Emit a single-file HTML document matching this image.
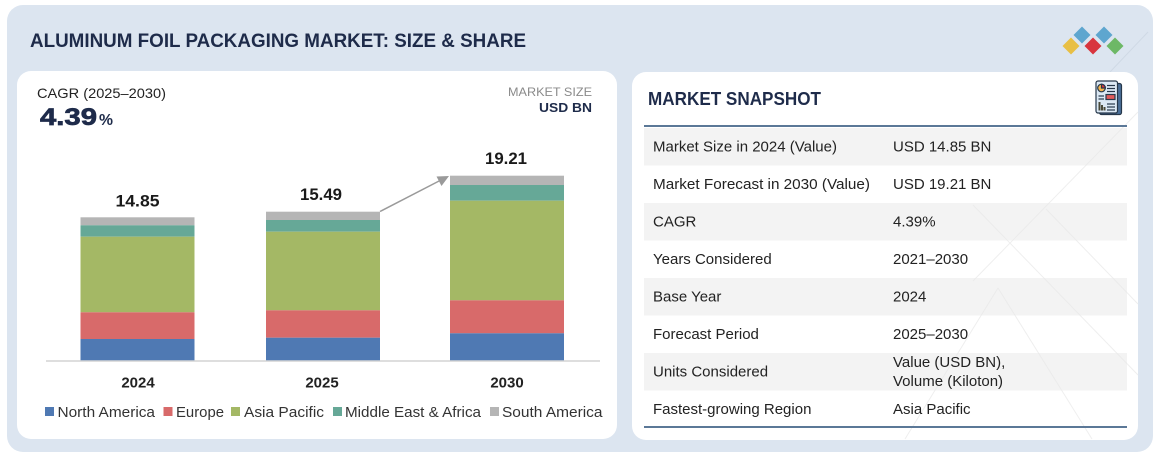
<!DOCTYPE html>
<html>
<head>
<meta charset="utf-8">
<style>
html,body{margin:0;padding:0;background:#ffffff;}
svg{display:block;}
text{font-family:"Liberation Sans", Arial, sans-serif;}
</style>
</head>
<body>
<svg width="1159" height="455" viewBox="0 0 1159 455" xmlns="http://www.w3.org/2000/svg">
  <rect x="0" y="0" width="1159" height="455" fill="#ffffff"/>
  <!-- outer panel -->
  <rect x="7" y="5" width="1146" height="447" rx="16" ry="16" fill="#dce5f0"/>
  <line x1="1148" y1="32" x2="1110" y2="72" stroke="#cfd9e5" stroke-width="1"/>

  <!-- title -->
  <text x="30" y="47" font-size="19" font-weight="bold" fill="#1e2b4a" textLength="496" lengthAdjust="spacingAndGlyphs">ALUMINUM FOIL PACKAGING MARKET: SIZE &amp; SHARE</text>

  <!-- logo diamonds -->
  <g>
    <polygon points="1071,37.5 1079.5,46 1071,54.5 1062.5,46" fill="#e8bf45"/>
    <polygon points="1082,26.5 1090.5,35 1082,43.5 1073.5,35" fill="#5ea6cf"/>
    <polygon points="1104,26.5 1112.5,35 1104,43.5 1095.5,35" fill="#5ea6cf"/>
    <polygon points="1093,37.5 1101.5,46 1093,54.5 1084.5,46" fill="#d8353e"/>
    <polygon points="1115,37.5 1123.5,46 1115,54.5 1106.5,46" fill="#6db866"/>
  </g>

  <!-- left card -->
  <rect x="17" y="71" width="600" height="368" rx="14" ry="14" fill="#ffffff"/>

  <text x="37" y="98" font-size="14" fill="#222222" textLength="129" lengthAdjust="spacingAndGlyphs">CAGR (2025–2030)</text>
  <text x="40" y="125" font-size="24" font-weight="bold" fill="#1e2b4a" stroke="#1e2b4a" stroke-width="0.7" textLength="57" lengthAdjust="spacingAndGlyphs">4.39</text>
  <text x="99" y="125" font-size="16" font-weight="bold" fill="#1e2b4a" textLength="14" lengthAdjust="spacingAndGlyphs">%</text>

  <text x="592" y="96" font-size="12" fill="#8a8a8a" text-anchor="end" textLength="84" lengthAdjust="spacingAndGlyphs">MARKET SIZE</text>
  <text x="592" y="112" font-size="13" font-weight="bold" fill="#1e2b4a" text-anchor="end" textLength="53" lengthAdjust="spacingAndGlyphs">USD BN</text>

  <!-- bars 2024 -->
  <rect x="80.5" y="217.3" width="114" height="8" fill="#b5b5b5"/>
  <rect x="80.5" y="225.3" width="114" height="11.4" fill="#66a897"/>
  <rect x="80.5" y="236.7" width="114" height="75.6" fill="#a4b865"/>
  <rect x="80.5" y="312.3" width="114" height="26.7" fill="#d86a6a"/>
  <rect x="80.5" y="339" width="114" height="21.5" fill="#4f79b3"/>
  <!-- bars 2025 -->
  <rect x="266" y="211.7" width="114" height="8.3" fill="#b5b5b5"/>
  <rect x="266" y="220" width="114" height="11.7" fill="#66a897"/>
  <rect x="266" y="231.7" width="114" height="78.6" fill="#a4b865"/>
  <rect x="266" y="310.3" width="114" height="27.4" fill="#d86a6a"/>
  <rect x="266" y="337.7" width="114" height="22.8" fill="#4f79b3"/>
  <!-- bars 2030 -->
  <rect x="450" y="175.7" width="114" height="9.3" fill="#b5b5b5"/>
  <rect x="450" y="185" width="114" height="15.7" fill="#66a897"/>
  <rect x="450" y="200.7" width="114" height="99.6" fill="#a4b865"/>
  <rect x="450" y="300.3" width="114" height="33" fill="#d86a6a"/>
  <rect x="450" y="333.3" width="114" height="27.2" fill="#4f79b3"/>

  <!-- baseline -->
  <line x1="46" y1="361" x2="600" y2="361" stroke="#d4d4d4" stroke-width="1.5"/>

  <!-- arrow -->
  <line x1="380" y1="211.5" x2="441" y2="180" stroke="#9a9a9a" stroke-width="1.5"/>
  <polygon points="449,176 436.5,176.5 441.5,186" fill="#9a9a9a"/>

  <!-- value labels -->
  <text x="137.5" y="206.7" font-size="17" font-weight="bold" fill="#1a1a1a" text-anchor="middle" textLength="44" lengthAdjust="spacingAndGlyphs">14.85</text>
  <text x="321" y="200" font-size="17" font-weight="bold" fill="#1a1a1a" text-anchor="middle" textLength="42" lengthAdjust="spacingAndGlyphs">15.49</text>
  <text x="506" y="164" font-size="17" font-weight="bold" fill="#1a1a1a" text-anchor="middle" textLength="42" lengthAdjust="spacingAndGlyphs">19.21</text>

  <!-- year labels -->
  <text x="138" y="387.7" font-size="15" font-weight="bold" fill="#222222" text-anchor="middle">2024</text>
  <text x="322" y="387.7" font-size="15" font-weight="bold" fill="#222222" text-anchor="middle">2025</text>
  <text x="507" y="387.7" font-size="15" font-weight="bold" fill="#222222" text-anchor="middle">2030</text>

  <!-- legend -->
  <rect x="45" y="407" width="9" height="9" fill="#4f79b3"/>
  <text x="57.5" y="417" font-size="15" fill="#333333" textLength="97.5" lengthAdjust="spacingAndGlyphs">North America</text>
  <rect x="163.5" y="407" width="9" height="9" fill="#d86a6a"/>
  <text x="176" y="417" font-size="15" fill="#333333" textLength="48" lengthAdjust="spacingAndGlyphs">Europe</text>
  <rect x="231" y="407" width="9" height="9" fill="#a4b865"/>
  <text x="244" y="417" font-size="15" fill="#333333" textLength="80" lengthAdjust="spacingAndGlyphs">Asia Pacific</text>
  <rect x="333" y="407" width="9" height="9" fill="#66a897"/>
  <text x="345" y="417" font-size="15" fill="#333333" textLength="136" lengthAdjust="spacingAndGlyphs">Middle East &amp; Africa</text>
  <rect x="490" y="407" width="9" height="9" fill="#b5b5b5"/>
  <text x="502" y="417" font-size="15" fill="#333333" textLength="100.5" lengthAdjust="spacingAndGlyphs">South America</text>

  <!-- right card -->
  <rect x="632" y="72" width="506" height="368" rx="14" ry="14" fill="#ffffff"/>

  <!-- row backgrounds -->
  <rect x="644" y="128" width="483" height="37.5" fill="#f3f3f3"/>
  <rect x="644" y="203" width="483" height="37.5" fill="#f3f3f3"/>
  <rect x="644" y="278" width="483" height="37.5" fill="#f3f3f3"/>
  <rect x="644" y="353" width="483" height="37.5" fill="#f3f3f3"/>

  <!-- decorative faint lines -->
  <g stroke="#e8e8e8" stroke-width="1" fill="none" opacity="0.7">
    <line x1="1138" y1="112" x2="973" y2="281"/>
    <line x1="973" y1="205" x2="1138" y2="375"/>
    <line x1="1046" y1="209" x2="1138" y2="304"/>
    <line x1="998" y1="288" x2="1092" y2="439"/>
    <line x1="998" y1="288" x2="905" y2="439"/>
  </g>

  <text x="648" y="105" font-size="18" font-weight="bold" fill="#1e2b4a" textLength="173" lengthAdjust="spacingAndGlyphs">MARKET SNAPSHOT</text>

  <!-- icon -->
  <g stroke="#26374a" stroke-width="1.2">
    <rect x="1099.5" y="83.5" width="22" height="31" rx="2" fill="#4a6f98"/>
    <rect x="1096" y="81" width="21.5" height="32" rx="2" fill="#dbe8f4"/>
    <circle cx="1101.5" cy="88" r="3.8" fill="#f2b54f"/>
    <path d="M1101.5 88 L1101.5 84.2 A3.8 3.8 0 0 1 1105.3 88 Z" fill="#d8353e"/>
    <line x1="1107" y1="85.5" x2="1115" y2="85.5"/>
    <line x1="1107" y1="88.5" x2="1115" y2="88.5"/>
    <line x1="1107" y1="91.5" x2="1115" y2="91.5"/>
    <line x1="1098.5" y1="96" x2="1104" y2="96"/>
    <line x1="1098.5" y1="99" x2="1104" y2="99"/>
    <rect x="1106" y="94.5" width="9" height="5" fill="#e05a5a"/>
    <line x1="1107" y1="104" x2="1115" y2="104"/>
    <line x1="1107" y1="107" x2="1115" y2="107"/>
    <line x1="1107" y1="110" x2="1115" y2="110"/>
  </g>
  <g fill="#4a4a3a">
    <rect x="1098.5" y="102" width="2" height="8.5"/>
    <rect x="1101" y="105" width="2" height="5.5"/>
    <rect x="1103.5" y="107" width="2" height="3.5"/>
  </g>

  <!-- header / footer lines -->
  <line x1="644" y1="126" x2="1127" y2="126" stroke="#5b7897" stroke-width="2"/>
  <line x1="644" y1="427" x2="1127" y2="427" stroke="#5b7897" stroke-width="2"/>

  <!-- row text -->
  <g font-size="15" fill="#222222">
    <text x="653" y="151.5">Market Size in 2024 (Value)</text>
    <text x="893" y="151.5">USD 14.85 BN</text>
    <text x="653" y="189" textLength="217" lengthAdjust="spacingAndGlyphs">Market Forecast in 2030 (Value)</text>
    <text x="893" y="189">USD 19.21 BN</text>
    <text x="653" y="226.5">CAGR</text>
    <text x="893" y="226.5">4.39%</text>
    <text x="653" y="264">Years Considered</text>
    <text x="893" y="264">2021–2030</text>
    <text x="653" y="301.5">Base Year</text>
    <text x="893" y="301.5">2024</text>
    <text x="653" y="339">Forecast Period</text>
    <text x="893" y="339">2025–2030</text>
    <text x="653" y="376.5">Units Considered</text>
    <text x="893" y="367">Value (USD BN),</text>
    <text x="893" y="386">Volume (Kiloton)</text>
    <text x="653" y="414">Fastest-growing Region</text>
    <text x="893" y="414">Asia Pacific</text>
  </g>
</svg>
</body>
</html>
